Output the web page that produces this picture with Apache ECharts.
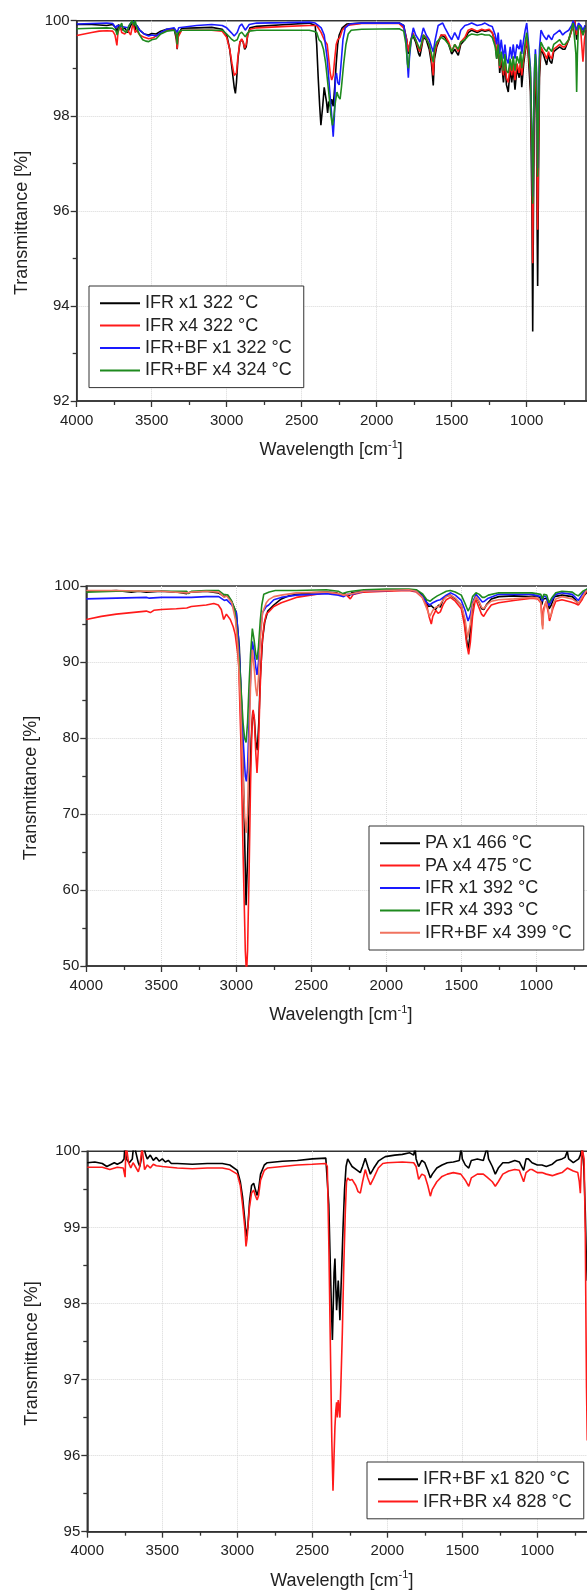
<!DOCTYPE html>
<html><head><meta charset="utf-8">
<script src="https://cdn.jsdelivr.net/npm/echarts@6.0.0/dist/echarts.min.js"></script>
<style>html,body{margin:0;padding:0;background:#fff}#c{width:587px;height:1593px}</style>
</head><body><div id="c"></div>
<script>
// ---------- axis ticks ----------
const xTicks = {min: 500, max: 4000, interval: 500};
const yTicks1 = {min: 92, max: 100, interval: 2};
const yTicks2 = {min: 50, max: 100, interval: 10};
const yTicks3 = {min: 95, max: 100, interval: 1};
const xTitle = 'Wavelength [cm{sup|-1}]';
const yTitle = 'Transmittance [%]';

// ---------- legend names ----------
const names1 = ['IFR x1 322 °C', 'IFR x4 322 °C', 'IFR+BF x1 322 °C', 'IFR+BF x4 324 °C'];
const names2 = ['PA x1 466 °C', 'PA x4 475 °C', 'IFR x1 392 °C', 'IFR x4 393 °C', 'IFR+BF x4 399 °C'];
const names3 = ['IFR+BF x1 820 °C', 'IFR+BR x4 828 °C'];
const frame1Right = 605;

// ---------- panel 1 data [wavenumber, transmittance] ----------
const p1_ifrX1 = [[4000,99.92],[3900,99.92],[3800,99.9],[3760,99.92],[3740,99.85],[3730,99.75],[3720,99.92],[3700,99.8],[3680,99.85],[3660,99.75],[3640,99.9],[3620,100],[3610,99.8],[3600,99.9],[3580,99.8],[3550,99.72],[3520,99.7],[3500,99.73],[3470,99.72],[3440,99.78],[3400,99.82],[3350,99.83],[3335,99.6],[3330,99.4],[3325,99.7],[3300,99.84],[3200,99.85],[3100,99.86],[3030,99.82],[3000,99.7],[2980,99.4],[2965,99.0],[2950,98.6],[2942,98.47],[2935,98.7],[2925,99.2],[2912,99.55],[2900,99.6],[2890,99.55],[2880,99.4],[2876,99.38],[2870,99.45],[2860,99.7],[2845,99.85],[2800,99.88],[2600,99.92],[2450,99.95],[2410,99.9],[2400,99.5],[2390,98.8],[2380,98.2],[2372,97.8],[2367,97.77],[2360,98.2],[2350,98.6],[2344,98.61],[2335,98.3],[2327,98.06],[2320,98.3],[2310,98.2],[2300,98.35],[2290,98.2],[2280,98.6],[2270,99.1],[2260,99.5],[2250,99.7],[2230,99.85],[2200,99.93],[2100,99.95],[1850,99.95],[1820,99.9],[1800,99.6],[1789,99.3],[1780,99.5],[1760,99.7],[1740,99.55],[1720,99.3],[1712,99.25],[1700,99.45],[1689,99.65],[1670,99.6],[1650,99.4],[1635,99.1],[1623,98.64],[1615,99.2],[1600,99.45],[1570,99.7],[1545,99.65],[1520,99.5],[1500,99.3],[1480,99.4],[1456,99.27],[1440,99.5],[1412,99.6],[1390,99.75],[1367,99.8],[1330,99.75],[1300,99.8],[1278,99.78],[1250,99.8],[1230,99.75],[1210,99.55],[1200,99.2],[1190,99.5],[1180,98.9],[1170,99.2],[1155,98.7],[1145,99.1],[1135,98.65],[1123,98.5],[1110,99.0],[1100,98.7],[1090,99.0],[1078,98.55],[1065,99.0],[1050,98.8],[1040,99.1],[1033,98.6],[1020,99.1],[1010,99.35],[1000,99.6],[990,99.3],[975,98.5],[965,96],[960,93.46],[955,96],[948,98.5],[942,99.0],[935,98.0],[930,95.5],[927,94.42],[922,96.5],[915,98.8],[905,99.4],[890,99.3],[880,99.2],[867,99.07],[855,99.3],[845,99.15],[833,99.1],[820,99.35],[800,99.4],[780,99.45],[760,99.4],[745,99.4],[720,99.6],[700,99.8],[690,99.9],[680,100],[667,99.6],[655,99.9],[640,99.85],[625,99.7],[610,99.9]];
const p1_ifrX4 = [[4000,99.69],[3950,99.72],[3900,99.75],[3850,99.78],[3800,99.79],[3760,99.78],[3745,99.7],[3732,99.48],[3725,99.75],[3710,99.9],[3700,99.75],[3680,99.72],[3660,99.8],[3640,99.7],[3625,99.95],[3610,99.75],[3600,99.8],[3580,99.7],[3550,99.65],[3520,99.62],[3490,99.64],[3460,99.7],[3430,99.76],[3400,99.8],[3340,99.8],[3335,99.6],[3330,99.41],[3325,99.65],[3300,99.8],[3200,99.8],[3100,99.8],[3030,99.78],[3000,99.65],[2980,99.4],[2965,99.1],[2950,98.85],[2942,98.82],[2935,98.9],[2925,99.25],[2912,99.55],[2900,99.62],[2890,99.55],[2880,99.42],[2876,99.4],[2870,99.5],[2860,99.7],[2845,99.82],[2800,99.85],[2600,99.88],[2450,99.9],[2400,99.9],[2370,99.75],[2350,99.6],[2330,99.5],[2320,99.2],[2310,98.9],[2300,98.75],[2290,98.85],[2280,99.2],[2270,99.5],[2260,99.6],[2245,99.65],[2230,99.8],[2200,99.9],[2100,99.94],[1850,99.94],[1820,99.85],[1800,99.6],[1789,99.35],[1780,99.5],[1760,99.75],[1740,99.6],[1720,99.4],[1712,99.35],[1700,99.5],[1689,99.7],[1670,99.65],[1650,99.5],[1635,99.2],[1623,98.85],[1615,99.3],[1600,99.5],[1570,99.7],[1545,99.7],[1520,99.55],[1500,99.35],[1480,99.5],[1456,99.35],[1440,99.55],[1412,99.65],[1390,99.8],[1367,99.83],[1330,99.78],[1300,99.82],[1278,99.8],[1250,99.82],[1230,99.75],[1210,99.55],[1200,99.3],[1190,99.55],[1180,99.0],[1170,99.3],[1155,98.85],[1145,99.2],[1135,98.8],[1123,98.7],[1110,99.1],[1100,98.85],[1090,99.1],[1078,98.75],[1065,99.1],[1050,98.9],[1040,99.2],[1033,98.85],[1020,99.2],[1010,99.4],[1000,99.6],[990,99.35],[975,98.8],[965,97],[960,94.9],[955,97],[948,98.7],[942,99.1],[935,98.4],[930,96.5],[927,95.6],[922,97.2],[915,99.0],[905,99.45],[890,99.35],[880,99.3],[867,99.2],[855,99.35],[845,99.25],[833,99.2],[820,99.4],[800,99.45],[780,99.5],[760,99.45],[745,99.45],[720,99.6],[700,99.8],[690,99.9],[680,100],[667,99.7],[655,99.9],[640,99.8],[625,99.14],[615,99.6],[605,99.8]];
const p1_bfX1 = [[4000,99.93],[3900,99.94],[3800,99.95],[3760,99.94],[3740,99.85],[3730,99.9],[3700,99.88],[3660,99.85],[3640,99.95],[3620,99.98],[3600,99.9],[3580,99.8],[3550,99.72],[3520,99.68],[3500,99.7],[3470,99.68],[3440,99.75],[3400,99.82],[3350,99.85],[3330,99.75],[3320,99.85],[3200,99.9],[3100,99.92],[3030,99.9],[3000,99.85],[2970,99.75],[2950,99.68],[2940,99.68],[2930,99.75],[2915,99.88],[2900,99.93],[2890,99.9],[2876,99.8],[2865,99.85],[2850,99.92],[2800,99.95],[2600,99.96],[2450,99.97],[2410,99.95],[2390,99.9],[2370,99.85],[2350,99.7],[2330,99.2],[2315,98.6],[2300,98.0],[2290,97.56],[2282,98.0],[2275,98.8],[2268,98.9],[2260,98.7],[2250,98.65],[2240,99.0],[2225,99.6],[2210,99.85],[2180,99.93],[2100,99.95],[1850,99.95],[1820,99.9],[1805,99.6],[1795,99.1],[1789,98.8],[1782,99.2],[1770,99.6],[1756,99.85],[1740,99.7],[1720,99.6],[1712,99.55],[1700,99.7],[1689,99.85],[1670,99.7],[1650,99.6],[1623,99.34],[1610,99.6],[1590,99.9],[1560,99.95],[1545,99.85],[1520,99.7],[1500,99.6],[1480,99.75],[1456,99.6],[1440,99.8],[1412,99.9],[1390,99.92],[1367,99.95],[1330,99.9],[1300,99.92],[1278,99.95],[1250,99.9],[1230,99.88],[1210,99.7],[1200,99.5],[1190,99.75],[1180,99.3],[1170,99.6],[1155,99.2],[1145,99.5],[1135,99.2],[1123,99.1],[1110,99.45],[1100,99.2],[1090,99.5],[1078,99.2],[1065,99.5],[1050,99.4],[1040,99.6],[1033,99.3],[1020,99.6],[1010,99.8],[1000,99.95],[990,99.6],[975,99.0],[965,97.5],[960,96.3],[955,97.5],[948,99.0],[942,99.4],[935,99.0],[930,97.8],[927,96.9],[922,98.0],[915,99.4],[905,99.8],[890,99.7],[880,99.65],[867,99.6],[855,99.7],[845,99.65],[833,99.6],[820,99.7],[800,99.75],[780,99.8],[760,99.7],[745,99.75],[720,99.8],[700,99.9],[690,100],[680,100],[667,99.8],[655,99.95],[640,99.9],[625,99.8],[610,99.9]];
const p1_bfX4 = [[4000,99.83],[3900,99.84],[3800,99.85],[3760,99.84],[3740,99.8],[3730,99.7],[3720,99.82],[3700,99.95],[3690,99.8],[3670,99.75],[3650,99.9],[3630,100],[3620,99.9],[3610,100],[3600,99.85],[3580,99.7],[3560,99.6],[3540,99.57],[3520,99.56],[3500,99.6],[3470,99.62],[3440,99.72],[3400,99.78],[3350,99.8],[3335,99.7],[3330,99.5],[3325,99.75],[3300,99.8],[3200,99.8],[3100,99.8],[3030,99.8],[3000,99.72],[2970,99.62],[2950,99.57],[2940,99.56],[2930,99.6],[2915,99.72],[2900,99.76],[2890,99.72],[2876,99.66],[2865,99.72],[2850,99.78],[2800,99.8],[2600,99.8],[2450,99.8],[2420,99.78],[2400,99.75],[2385,99.6],[2370,99.55],[2355,99.4],[2340,99.1],[2320,98.5],[2305,98.0],[2295,97.8],[2285,98.0],[2275,98.3],[2265,98.5],[2255,98.4],[2244,98.35],[2235,98.6],[2220,99.1],[2205,99.5],[2190,99.72],[2170,99.8],[2100,99.82],[1850,99.83],[1820,99.78],[1805,99.5],[1795,99.1],[1789,99.0],[1782,99.3],[1770,99.6],[1756,99.7],[1740,99.6],[1720,99.45],[1712,99.4],[1700,99.55],[1689,99.7],[1670,99.62],[1650,99.5],[1635,99.3],[1623,99.13],[1615,99.4],[1600,99.55],[1570,99.65],[1545,99.6],[1520,99.5],[1500,99.35],[1480,99.5],[1456,99.4],[1440,99.55],[1412,99.6],[1390,99.68],[1367,99.72],[1330,99.7],[1300,99.72],[1278,99.7],[1250,99.7],[1230,99.65],[1210,99.45],[1200,99.2],[1190,99.5],[1180,99.05],[1170,99.35],[1155,98.95],[1145,99.3],[1135,98.95],[1123,98.9],[1110,99.2],[1100,98.95],[1090,99.25],[1078,98.95],[1065,99.25],[1050,99.1],[1040,99.35],[1033,99.0],[1020,99.3],[1010,99.55],[1000,99.75],[990,99.5],[975,98.9],[965,97.5],[960,96.15],[955,97.5],[948,98.9],[942,99.3],[935,98.9],[930,97.6],[927,96.72],[922,97.9],[915,99.2],[905,99.55],[890,99.45],[880,99.4],[867,99.35],[855,99.45],[845,99.4],[833,99.35],[820,99.5],[800,99.55],[780,99.6],[760,99.5],[745,99.5],[720,99.6],[700,99.85],[690,99.95],[680,99.95],[672,99.3],[667,98.5],[662,99.3],[655,99.9],[640,99.85],[625,99.7],[610,99.85]];

// ---------- panel 2 data ----------
const p2_paX1 = [[4000,99.3],[3900,99.3],[3800,99.4],[3700,99.2],[3650,99.3],[3600,99.2],[3500,99.3],[3400,99.2],[3330,99.0],[3300,99.2],[3200,99.3],[3120,99.1],[3080,98.6],[3060,98.8],[3030,97.9],[3000,96.5],[2980,92],[2965,84],[2950,72],[2935,58],[2925,64],[2915,72],[2900,80],[2890,83.5],[2880,82.5],[2870,79.5],[2860,78.4],[2850,82],[2840,88],[2825,93],[2810,95.3],[2790,96.7],[2750,97.5],[2700,98.3],[2650,98.7],[2600,98.9],[2500,99.1],[2400,99.2],[2330,99.1],[2300,98.8],[2280,99.0],[2250,98.7],[2230,99.1],[2150,99.3],[2000,99.4],[1850,99.5],[1800,99.4],[1770,99.0],[1740,98.3],[1720,97.3],[1700,97.4],[1673,96.9],[1650,97.5],[1640,97.2],[1620,98.3],[1600,98.7],[1573,98.8],[1540,98.3],[1500,97.5],[1480,95.5],[1465,93],[1455,91.6],[1445,93],[1430,96.5],[1415,98.2],[1400,98.5],[1380,97.8],[1365,97.0],[1350,96.9],[1330,97.6],[1300,98.3],[1250,98.6],[1150,98.7],[1050,98.6],[1000,98.7],[975,98.5],[965,97.5],[960,97.8],[955,98.3],[930,98.4],[915,97],[907,96.8],[900,97.5],[880,98.6],[829,98.8],[760,98.6],[740,98.2],[720,97.6],[707,97.5],[690,98.6],[660,99.2],[620,99.4]];
const p2_paX4 = [[4000,95.6],[3900,96.0],[3800,96.3],[3700,96.5],[3600,96.7],[3573,96.5],[3550,96.8],[3500,96.9],[3400,97.0],[3330,97.1],[3300,97.3],[3200,97.5],[3150,97.7],[3120,97.5],[3100,96.9],[3084,95.6],[3066,96.3],[3040,95.6],[3020,94.6],[3007,93.6],[2990,91],[2984,89.6],[2970,80],[2955,65],[2940,52],[2932,49],[2925,52],[2915,62],[2905,74],[2895,82],[2888,83.7],[2880,82.7],[2870,78],[2862,75.4],[2852,79],[2842,86],[2830,92],[2815,95],[2800,96.3],[2784,96.6],[2750,97.3],[2700,97.8],[2600,98.5],[2473,98.9],[2400,99.1],[2330,99.0],[2300,98.8],[2270,98.9],[2240,98.3],[2220,98.9],[2150,99.2],[2000,99.3],[1850,99.4],[1800,99.2],[1760,98.5],[1730,97.4],[1715,96],[1700,95.0],[1690,96],[1670,96.8],[1655,96.4],[1640,96.6],[1620,97.6],[1600,98.2],[1573,98.5],[1540,98.0],[1500,97.0],[1480,95],[1465,92.5],[1451,91.0],[1440,92.5],[1425,96],[1410,97.8],[1402,98.2],[1385,97.3],[1365,96.3],[1351,96.0],[1330,96.7],[1300,97.5],[1251,97.8],[1150,98.1],[1029,98.4],[990,98.3],[970,97.8],[962,96.0],[958,94.8],[952,97.0],[935,97.9],[920,96.5],[912,95.4],[900,95.6],[890,97.0],[870,98.0],[829,98.2],[770,97.9],[740,97.7],[720,97.5],[707,97.3],[695,98.2],[670,99.2],[640,99.4]];
const p2_ifrX1 = [[4000,98.3],[3800,98.4],[3600,98.5],[3580,98.4],[3500,98.5],[3330,98.5],[3320,98.3],[3300,98.5],[3200,98.6],[3117,98.6],[3080,98.1],[3065,98.2],[3030,97.5],[3000,96.5],[2985,93],[2970,87],[2955,80],[2940,75],[2933,74.3],[2925,76],[2915,82],[2905,88],[2893,92.7],[2882,91.5],[2870,89.3],[2862,88.3],[2852,90],[2840,94],[2825,96.5],[2800,97.3],[2784,97.5],[2750,98.2],[2700,98.5],[2600,98.8],[2500,98.9],[2400,99.0],[2320,98.8],[2284,98.6],[2260,98.9],[2230,98.9],[2150,99.3],[2000,99.4],[1850,99.5],[1800,99.3],[1760,98.7],[1730,97.8],[1710,97.5],[1690,97.8],[1660,98.1],[1640,98.2],[1600,98.8],[1573,99.1],[1540,98.8],[1500,98.1],[1475,96.8],[1455,95.4],[1440,96.2],[1425,97.8],[1402,98.9],[1380,98.4],[1360,97.9],[1345,98.0],[1320,98.4],[1251,98.9],[1150,98.9],[1029,98.9],[970,98.6],[960,98.0],[950,98.7],[930,98.5],[915,97.4],[907,97.3],[895,98.2],[870,98.9],[829,99.1],[760,98.9],[740,98.5],[720,98.1],[707,98.0],[690,99.0],[660,99.6],[620,99.6]];
const p2_ifrX4 = [[4000,99.2],[3800,99.3],[3600,99.3],[3500,99.3],[3330,99.3],[3320,99.0],[3300,99.3],[3200,99.4],[3117,99.4],[3085,98.9],[3073,98.9],[3055,98.8],[3030,98.0],[3010,96.9],[2995,94],[2980,90],[2967,86],[2955,82],[2945,80],[2935,79.4],[2925,82],[2915,87],[2905,91],[2893,94.4],[2882,93],[2870,91],[2862,90.3],[2852,92],[2840,95.5],[2830,97.5],[2817,98.9],[2780,99.2],[2740,99.4],[2600,99.4],[2400,99.5],[2320,99.3],[2290,99.0],[2260,99.2],[2230,99.3],[2150,99.5],[2000,99.6],[1850,99.6],[1800,99.5],[1760,99.0],[1730,98.2],[1707,98.0],[1690,98.3],[1660,98.7],[1640,98.9],[1600,99.3],[1573,99.4],[1540,99.2],[1500,98.8],[1475,97.7],[1455,96.7],[1440,97.3],[1425,98.6],[1402,99.1],[1380,98.9],[1360,98.5],[1345,98.5],[1320,98.8],[1251,99.1],[1150,99.1],[1029,99.1],[970,98.9],[960,98.3],[950,98.9],[930,98.8],[915,97.8],[907,97.6],[895,98.5],[870,99.1],[829,99.3],[760,99.2],[740,98.9],[720,98.7],[707,98.6],[690,99.3],[660,99.6],[620,99.7]];
const p2_bfX4 = [[4000,99.4],[3800,99.4],[3600,99.3],[3500,99.3],[3330,99.1],[3300,99.2],[3200,99.3],[3117,99.2],[3080,98.5],[3065,98.7],[3030,97.8],[3005,95.5],[2990,92],[2975,86],[2960,78],[2945,70],[2935,67.5],[2925,70],[2915,79],[2905,87],[2893,91.6],[2882,89.5],[2870,86.5],[2862,85.5],[2852,88],[2840,93],[2825,96.5],[2800,97.8],[2784,98.2],[2750,98.6],[2700,98.8],[2600,99.1],[2400,99.2],[2320,99.0],[2284,98.8],[2250,98.9],[2150,99.3],[2000,99.4],[1850,99.5],[1800,99.3],[1760,98.5],[1730,97.0],[1710,96.0],[1690,96.8],[1670,97.2],[1650,97.3],[1620,98.2],[1600,98.6],[1573,98.8],[1540,98.4],[1500,97.5],[1475,95.6],[1458,93.2],[1440,95],[1425,97.6],[1402,98.6],[1380,97.9],[1365,97.2],[1351,97.0],[1330,97.5],[1300,98.0],[1251,98.2],[1150,98.3],[1029,98.5],[990,98.4],[970,97.9],[962,95.0],[957,94.3],[952,96.5],[935,98.0],[920,96.8],[912,95.8],[900,96.3],[890,97.5],[870,98.3],[829,98.6],[760,98.3],[740,98.0],[720,97.7],[707,97.6],[695,98.5],[670,99.3],[640,99.5]];

// ---------- panel 3 data ----------
const p3_bfX1 = [[4000,99.85],[3950,99.86],[3900,99.84],[3870,99.8],[3850,99.82],[3820,99.85],[3800,99.83],[3770,99.86],[3755,99.9],[3748,100.1],[3740,99.9],[3720,99.85],[3700,99.9],[3690,100.1],[3680,100.1],[3660,99.85],[3650,99.8],[3640,99.9],[3630,100.1],[3620,100.1],[3610,99.95],[3600,99.9],[3580,99.95],[3560,99.88],[3540,99.92],[3520,99.87],[3500,99.9],[3480,99.86],[3460,99.88],[3440,99.84],[3400,99.84],[3300,99.83],[3200,99.84],[3100,99.84],[3050,99.82],[3000,99.75],[2980,99.6],[2965,99.4],[2950,99.1],[2940,98.88],[2930,99.0],[2918,99.35],[2905,99.55],[2891,99.58],[2880,99.5],[2868,99.42],[2858,99.5],[2845,99.7],[2820,99.82],[2800,99.85],[2700,99.87],[2600,99.88],[2500,99.9],[2410,99.91],[2400,99.9],[2390,99.3],[2380,98.5],[2372,97.9],[2366,97.52],[2360,98.0],[2355,98.4],[2349,98.59],[2343,98.2],[2338,97.91],[2333,98.1],[2327,98.3],[2320,98.0],[2316,97.78],[2305,98.4],[2295,99.0],[2285,99.5],[2275,99.8],[2264,99.9],[2250,99.85],[2235,99.8],[2200,99.75],[2180,99.72],[2165,99.8],[2147,99.91],[2130,99.8],[2113,99.7],[2090,99.78],[2060,99.87],[2030,99.91],[2013,99.93],[1950,99.95],[1900,99.96],[1850,99.98],[1824,99.95],[1815,100.05],[1808,99.9],[1791,99.8],[1770,99.88],[1750,99.85],[1730,99.75],[1713,99.65],[1700,99.7],[1670,99.78],[1635,99.82],[1600,99.85],[1560,99.86],[1520,99.88],[1507,100.05],[1500,99.9],[1480,99.82],[1457,99.78],[1440,99.88],[1400,99.9],[1360,99.88],[1335,100.05],[1325,99.9],[1300,99.8],[1280,99.7],[1260,99.78],[1230,99.85],[1191,99.85],[1150,99.88],[1120,99.86],[1091,99.75],[1075,99.9],[1060,99.9],[1035,99.85],[1000,99.82],[969,99.82],[940,99.8],[900,99.83],[870,99.88],[835,99.9],[815,99.92],[800,100.0],[791,99.9],[760,99.85],[724,99.9],[713,99.95],[702,100.05],[690,99.8],[680,99.2],[673,98.6],[667,98.3],[660,99.0],[650,99.7],[640,99.85]];
const p3_brX4 = [[4000,99.79],[3950,99.79],[3900,99.79],[3850,99.76],[3800,99.79],[3760,99.78],[3748,99.66],[3742,100.1],[3735,100.1],[3725,99.85],[3710,99.78],[3695,99.85],[3680,99.8],[3660,99.73],[3650,99.8],[3635,100.05],[3628,100.05],[3618,99.76],[3600,99.82],[3580,99.78],[3560,99.83],[3540,99.81],[3500,99.8],[3450,99.79],[3400,99.78],[3300,99.77],[3200,99.78],[3100,99.78],[3050,99.76],[3000,99.7],[2980,99.55],[2965,99.3],[2950,99.0],[2942,98.75],[2935,98.85],[2920,99.25],[2905,99.45],[2891,99.49],[2880,99.42],[2868,99.36],[2858,99.42],[2845,99.62],[2820,99.75],[2800,99.78],[2700,99.8],[2600,99.82],[2500,99.83],[2410,99.84],[2400,99.8],[2390,98.8],[2380,97.5],[2370,96.2],[2362,95.54],[2355,96.0],[2349,96.38],[2343,96.6],[2338,96.7],[2333,96.5],[2327,96.73],[2320,96.6],[2316,96.5],[2310,96.9],[2300,97.6],[2290,98.5],[2280,99.2],[2272,99.6],[2264,99.65],[2250,99.62],[2235,99.63],[2210,99.55],[2195,99.47],[2180,99.45],[2165,99.6],[2147,99.76],[2130,99.65],[2113,99.56],[2090,99.65],[2060,99.78],[2030,99.84],[2000,99.85],[1900,99.86],[1824,99.85],[1808,99.8],[1791,99.63],[1770,99.7],[1750,99.68],[1730,99.55],[1713,99.41],[1700,99.5],[1670,99.6],[1635,99.67],[1600,99.7],[1560,99.72],[1510,99.7],[1480,99.62],[1457,99.54],[1440,99.65],[1400,99.7],[1360,99.7],[1335,99.66],[1300,99.6],[1280,99.54],[1260,99.6],[1230,99.7],[1191,99.74],[1150,99.76],[1120,99.75],[1091,99.6],[1075,99.72],[1050,99.76],[1035,99.76],[1000,99.72],[969,99.72],[940,99.7],[900,99.68],[870,99.7],[835,99.72],[800,99.78],[791,99.8],[760,99.74],[730,99.72],[720,99.6],[713,99.45],[707,99.8],[702,100.05],[695,100.05],[688,99.9],[680,98.9],[675,97.6],[672,96.9],[667,96.2],[660,97.5],[650,99.2],[640,99.6]];

// ---------- build ----------
const FONT = "'Liberation Sans', Arial, sans-serif";
const AX = '#333', TXT = '#222';
const grids = [
  {left: 76.7, top: 20.7, width: 525, height: 380.3},
  {left: 86.3, top: 586, width: 525, height: 380},
  {left: 87.3, top: 1151.3, width: 525, height: 380.4}
];
const yT = [yTicks1, yTicks2, yTicks3];
const splitStyle = {show: true, showMinLine: false, showMaxLine: false,
  lineStyle: {color: '#d8d8d8', type: 'dotted', width: 1}};

const option = {
  animation: false,
  backgroundColor: '#fff',
  grid: grids.map(g => Object.assign({show: true, borderColor: AX, borderWidth: 1.5, backgroundColor: 'transparent',
    containLabel: false, outerBoundsMode: 'none'}, g)),
  xAxis: grids.map((g, i) => ({
    gridIndex: i, type: 'value', inverse: true,
    min: xTicks.min, max: xTicks.max, interval: xTicks.interval,
    axisLine: {show: true, onZero: false, lineStyle: {color: AX, width: 1.5}},
    axisTick: {show: true, inside: false, length: 6, lineStyle: {color: AX, width: 1.3}},
    minorTick: {show: true, splitNumber: 2, length: 4, lineStyle: {color: AX, width: 1.3}},
    splitLine: splitStyle,
    axisLabel: {fontSize: 15, color: TXT, margin: 12, fontFamily: FONT, formatter: v => String(v)},
    name: xTitle, nameLocation: 'middle', nameGap: 38,
    nameTextStyle: {fontSize: 18, color: TXT, fontFamily: FONT, padding: [0, 16, 0, 0], lineHeight: 22,
      rich: {sup: {fontSize: 11, lineHeight: 12, verticalAlign: 'top', color: TXT, fontFamily: FONT}}}
  })),
  yAxis: grids.map((g, i) => ({
    gridIndex: i, type: 'value', min: yT[i].min, max: yT[i].max, interval: yT[i].interval,
    axisLine: {show: true, onZero: false, lineStyle: {color: AX, width: 1.5}},
    axisTick: {show: true, inside: false, length: 6, lineStyle: {color: AX, width: 1.3}},
    minorTick: {show: true, splitNumber: 2, length: 4, lineStyle: {color: AX, width: 1.3}},
    splitLine: splitStyle,
    axisLabel: {fontSize: 15, color: TXT, margin: 7, fontFamily: FONT, formatter: v => String(v)},
    name: yTitle, nameLocation: 'middle', nameGap: 46, nameRotate: 90,
    nameTextStyle: {fontSize: 18, color: TXT, fontFamily: FONT, padding: [0, 24, 0, 0]}
  })),
  legend: [
    {names: names1, left: 89, top: 286},
    {names: names2, left: 369, top: 826},
    {names: names3, left: 367, top: 1462}
  ].map(l => ({
    data: l.names, left: l.left, top: l.top, orient: 'vertical', icon: 'rect',
    itemWidth: 40, itemHeight: 2, itemGap: 0, padding: [6, 12, 6, 11],
    borderColor: AX, borderWidth: 1, backgroundColor: '#fff', selectedMode: false,
    textStyle: {fontSize: 18, lineHeight: 22.4, color: TXT, fontFamily: FONT}
  })),
  series: []
};

function addSeries(name, data, color, gi, extra) {
  option.series.push(Object.assign({
    name, type: 'line', data, xAxisIndex: gi, yAxisIndex: gi,
    showSymbol: false, symbol: 'none', clip: true,
    lineStyle: {color, width: 1.6}, itemStyle: {color}, color
  }, extra || {}));
}
addSeries(names1[0], p1_ifrX1, '#000000', 0, {
  markLine: {silent: true, symbol: ['none', 'none'], label: {show: false},
    lineStyle: {color: AX, type: 'solid', width: 1.5}, data: [{xAxis: frame1Right}]}
});
addSeries(names1[1], p1_ifrX4, '#ff1a1a', 0);
addSeries(names1[2], p1_bfX1, '#1a1aff', 0);
addSeries(names1[3], p1_bfX4, '#1e8a1e', 0);

addSeries(names2[0], p2_paX1, '#000000', 1);
addSeries(names2[1], p2_paX4, '#ff1a1a', 1);
addSeries(names2[2], p2_ifrX1, '#1a1aff', 1);
addSeries(names2[3], p2_ifrX4, '#1e8a1e', 1);
addSeries(names2[4], p2_bfX4, '#f0735f', 1);

addSeries(names3[0], p3_bfX1, '#000000', 2);
addSeries(names3[1], p3_brX4, '#ff1a1a', 2);

const chart = echarts.init(document.getElementById('c'), null, {renderer: 'canvas'});
chart.setOption(option);
</script></body></html>
